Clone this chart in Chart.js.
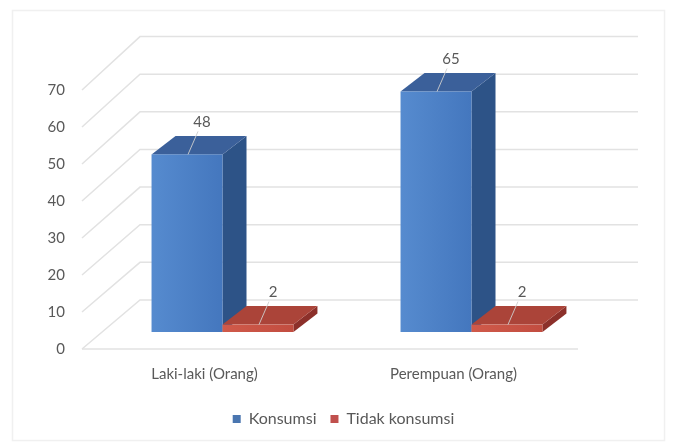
<!DOCTYPE html>
<html>
<head>
<meta charset="utf-8">
<script src="https://cdn.jsdelivr.net/npm/chart.js@4"></script>
<style>
  html, body { margin: 0; padding: 0; background: #fff; }
  #wrap { width: 675px; height: 445px; }
</style>
</head>
<body>
<div id="wrap"><canvas id="grafik"></canvas></div>
<script>
var kategori = ["Laki-laki (Orang)", "Perempuan (Orang)"];
var konsumsi = [48, 65];
var tidakKonsumsi = [2, 2];
var tickY = [0, 10, 20, 30, 40, 50, 60, 70];

var abu = '#595959';
var huruf = 'Lato, "Open Sans", sans-serif';

// depth of the floor / side wall and of each bar
var ruang = { dx: 60, dy: 49, persp: 1.017 };
var balok = { geserX: 18, geserY: -17, dx: 24, dy: 18.5 };

var warna = [
    { depan: ['#568bcf', '#4477be'], atas: '#3b609a', sisi: '#2d5387' },
    { depan: ['#d05a4a', '#c24d40'], atas: '#ab4439', sisi: '#8c302a' }
];

// back wall, side wall and floor, built from the y scale
var dinding3d = {
    id: 'dinding3d',
    beforeDraw: function (chart) {
        var c = chart.ctx;
        c.save();
        c.strokeStyle = '#f0f0f0';
        c.lineWidth = 1.5;
        c.strokeRect(12.5, 10.5, 652, 430);
        c.restore();
    },
    beforeDatasetsDraw: function (chart) {
        var c = chart.ctx;
        var a = chart.chartArea;
        var y = chart.scales.y;
        var dasar = y.getPixelForValue(0);
        c.save();
        c.strokeStyle = '#e2e2e2';
        c.lineWidth = 1.5;
        tickY.forEach(function (v) {
            var yf = y.getPixelForValue(v);
            var yb = dasar - ruang.dy - (dasar - yf) * ruang.persp;
            c.beginPath();
            c.moveTo(a.left + 2, yf);
            c.lineTo(a.left + ruang.dx, yb);
            c.lineTo(a.right + ruang.dx, yb);
            c.stroke();
        });
        c.beginPath();
        c.moveTo(a.left + 2, dasar);
        c.lineTo(a.right, dasar);
        c.stroke();
        c.restore();

        // 3d bars from the bar elements computed by Chart.js
        var daftar = [];
        chart.data.datasets.forEach(function (ds, di) {
            chart.getDatasetMeta(di).data.forEach(function (el, i) {
                daftar.push({ el: el, di: di, nilai: ds.data[i] });
            });
        });
        daftar.sort(function (p, q) { return p.el.x - q.el.x; });

        daftar.forEach(function (b) {
            var el = b.el;
            var w = warna[b.di];
            var kiri = el.x - el.width / 2 + balok.geserX;
            var kanan = el.x + el.width / 2 + balok.geserX;
            var atas = el.y + balok.geserY;
            var bawah = el.base + balok.geserY;
            var dx = balok.dx, dy = balok.dy;

            // side face
            c.fillStyle = w.sisi;
            c.beginPath();
            c.moveTo(kanan, atas);
            c.lineTo(kanan + dx, atas - dy);
            c.lineTo(kanan + dx, bawah - dy);
            c.lineTo(kanan, bawah);
            c.closePath();
            c.fill();

            // top face
            c.fillStyle = w.atas;
            c.beginPath();
            c.moveTo(kiri, atas);
            c.lineTo(kiri + dx, atas - dy);
            c.lineTo(kanan + dx, atas - dy);
            c.lineTo(kanan, atas);
            c.closePath();
            c.fill();

            // front face
            var g = c.createLinearGradient(kiri, 0, kanan, 0);
            g.addColorStop(0, w.depan[0]);
            g.addColorStop(1, w.depan[1]);
            c.fillStyle = g;
            c.fillRect(kiri, atas, kanan - kiri, bawah - atas);
        });

        // value labels with leader lines
        c.font = '15px ' + huruf;
        c.fillStyle = abu;
        c.textAlign = 'center';
        c.textBaseline = 'middle';
        daftar.forEach(function (b) {
            var el = b.el;
            var cx = el.x + balok.geserX;
            var top = el.y + balok.geserY;
            c.strokeStyle = 'rgba(205,205,205,0.9)';
            c.lineWidth = 1;
            c.beginPath();
            c.moveTo(cx + 1, top);
            c.lineTo(cx + 11, top - 23);
            c.stroke();
            c.fillText(String(b.nilai), cx + 15, top - 32);
        });
        return false;
    }
};

var ctx = document.getElementById("grafik");

var grafik = new Chart(ctx, {
    type: 'bar',
    data: {
        labels: kategori,
        datasets: [
            {
                label: 'Konsumsi',
                data: konsumsi,
                backgroundColor: '#4a76b0',
                categoryPercentage: 0.57,
                barPercentage: 1.0
            },
            {
                label: 'Tidak konsumsi',
                data: tidakKonsumsi,
                backgroundColor: '#c0504d',
                categoryPercentage: 0.57,
                barPercentage: 1.0
            }
        ]
    },
    options: {
        responsive: true,
        maintainAspectRatio: false,
        animation: false,
        layout: {
            padding: { top: 90, right: 0, bottom: 8, left: 12 }
        },
        plugins: {
            legend: {
                position: 'bottom',
                labels: {
                    boxWidth: 8,
                    boxHeight: 8,
                    padding: 14,
                    color: abu,
                    font: { family: huruf, size: 16 }
                }
            },
            tooltip: { enabled: false }
        },
        scales: {
            x: {
                grid: { display: false, drawTicks: false },
                border: { display: false },
                ticks: {
                    padding: 16,
                    color: abu,
                    font: { family: huruf, size: 15 }
                },
                afterFit: function (s) { s.height = 48; }
            },
            y: {
                min: 0,
                max: 70,
                grid: { display: false, drawTicks: false },
                border: { display: false },
                ticks: {
                    stepSize: 10,
                    padding: 15,
                    color: abu,
                    font: { family: huruf, size: 15 }
                },
                afterFit: function (s) { s.width = 68; }
            },
            // empty right axis that keeps room for the depth of the walls
            kanan: {
                position: 'right',
                grid: { display: false },
                border: { display: false },
                ticks: { display: false },
                afterFit: function (s) { s.width = 97; }
            }
        }
    },
    plugins: [dinding3d]
});
</script>
</body>
</html>
